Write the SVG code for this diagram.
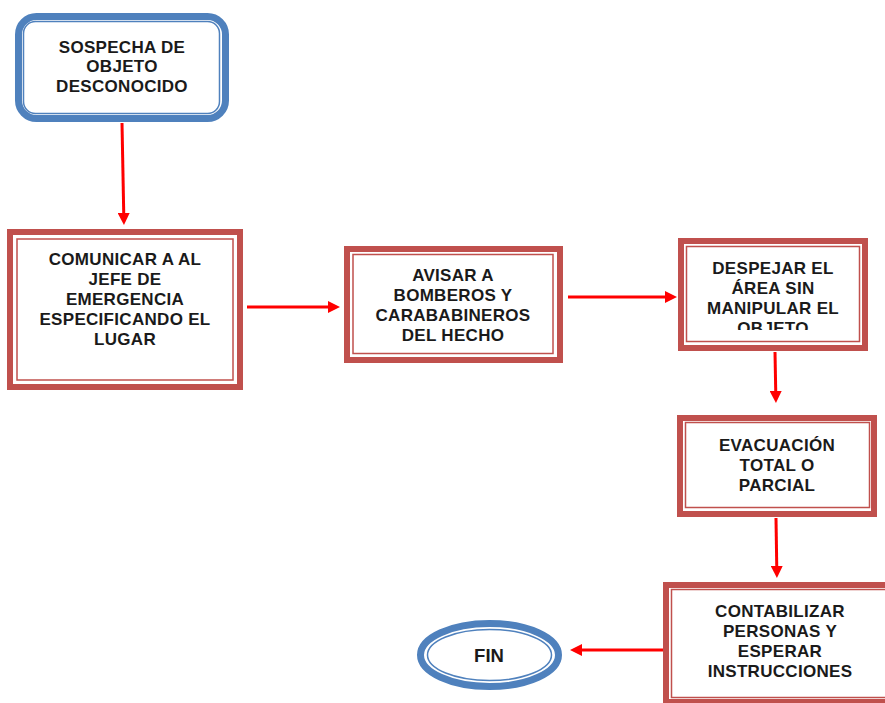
<svg xmlns="http://www.w3.org/2000/svg" width="885" height="703" viewBox="0 0 885 703">
<style>
.band-b{fill:#fff;stroke:#4f81bd;stroke-width:7}
.thin-b{fill:none;stroke:#4f81bd;stroke-width:1.5}
.band-r{fill:#fff;stroke:#c0504d;stroke-width:6}
.thin-r{fill:none;stroke:#c0504d;stroke-width:1.5}
.t{font-family:"Liberation Sans",Arial,sans-serif;font-weight:bold;font-size:17px;letter-spacing:0.3px;fill:#1a1a1a;text-anchor:middle}
.c{stroke:#ff0000;stroke-width:3;fill:none;marker-end:url(#ah)}
</style>
<defs>
<marker id="ah" viewBox="0 0 12 12" markerWidth="12" markerHeight="12" markerUnits="userSpaceOnUse" refX="4" refY="6" orient="auto">
<path d="M0,0 L12,6 L0,12 z" fill="#ff0000"/>
</marker>
<clipPath id="clip4"><rect x="686" y="246" width="174" height="84"/></clipPath>
</defs>
<rect width="885" height="703" fill="#fff"/>
<g id="connectors">
<line class="c" x1="122" y1="123" x2="123.8" y2="217"/>
<line class="c" x1="247" y1="307" x2="332" y2="307"/>
<line class="c" x1="568" y1="297" x2="669" y2="297"/>
<line class="c" x1="775" y1="352" x2="775.8" y2="395"/>
<line class="c" x1="776" y1="518" x2="776.8" y2="570"/>
<line class="c" x1="663" y1="650" x2="578" y2="650"/>
</g>
<g id="n1">
<rect class="band-b" x="18.5" y="16.5" width="207" height="102" rx="18"/>
<rect class="thin-b" x="23.5" y="21.5" width="196" height="92" rx="12"/>
<text class="t" x="122" y="53">SOSPECHA DE</text>
<text class="t" x="122" y="72">OBJETO</text>
<text class="t" x="122" y="92">DESCONOCIDO</text>
</g>
<g id="n2">
<rect class="band-r" x="10" y="232" width="230" height="155"/>
<rect class="thin-r" x="17" y="239" width="216" height="141"/>
<text class="t" x="125" y="265">COMUNICAR A AL</text>
<text class="t" x="125" y="285">JEFE DE</text>
<text class="t" x="125" y="305">EMERGENCIA</text>
<text class="t" x="125" y="325">ESPECIFICANDO EL</text>
<text class="t" x="125" y="345">LUGAR</text>
</g>
<g id="n3">
<rect class="band-r" x="347" y="249" width="213" height="111"/>
<rect class="thin-r" x="353" y="254.5" width="200" height="99"/>
<text class="t" x="453" y="281">AVISAR A</text>
<text class="t" x="453" y="301">BOMBEROS Y</text>
<text class="t" x="453" y="321">CARABABINEROS</text>
<text class="t" x="453" y="341">DEL HECHO</text>
</g>
<g id="n4">
<rect class="band-r" x="681" y="241" width="184" height="107"/>
<rect class="thin-r" x="686.5" y="246.5" width="173" height="95"/>
<g clip-path="url(#clip4)">
<text class="t" x="773" y="274">DESPEJAR EL</text>
<text class="t" x="773" y="294">ÁREA SIN</text>
<text class="t" x="773" y="314">MANIPULAR EL</text>
<text class="t" x="773" y="334">OBJETO</text>
</g>
</g>
<g id="n5">
<rect class="band-r" x="680" y="418" width="194" height="96"/>
<rect class="thin-r" x="685.5" y="422.5" width="184" height="85"/>
<text class="t" x="777" y="451">EVACUACIÓN</text>
<text class="t" x="777" y="471">TOTAL O</text>
<text class="t" x="777" y="491">PARCIAL</text>
</g>
<g id="n6">
<rect class="band-r" x="666" y="585" width="240" height="117"/>
<rect class="thin-r" x="671.5" y="589.5" width="230" height="108"/>
<text class="t" x="780" y="617">CONTABILIZAR</text>
<text class="t" x="780" y="637">PERSONAS Y</text>
<text class="t" x="780" y="657">ESPERAR</text>
<text class="t" x="780" y="677">INSTRUCCIONES</text>
</g>
<g id="fin">
<ellipse class="band-b" cx="489.5" cy="655" rx="69" ry="31.5"/>
<ellipse class="thin-b" cx="489.5" cy="655" rx="62" ry="25.5"/>
<text class="t" x="489" y="662" style="font-size:18.5px;letter-spacing:0">FIN</text>
</g>
</svg>
